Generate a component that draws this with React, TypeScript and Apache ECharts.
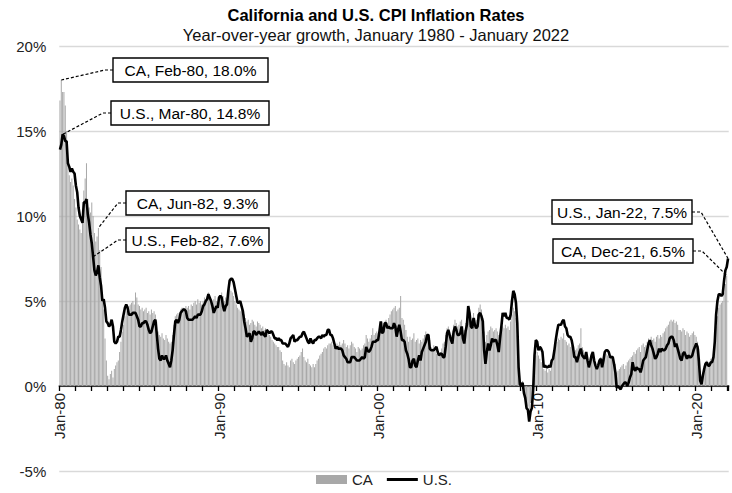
import React, { useEffect, useRef } from "react";
import * as echarts from "echarts";

// ---------- data (year-over-year % change, monthly) ----------
const MONTH_NAMES = ["Jan", "Feb", "Mar", "Apr", "May", "Jun", "Jul", "Aug", "Sep", "Oct", "Nov", "Dec"];
const FIRST_YEAR = 1980;
const LAST_YEAR = 2022;

const caValues1980s = [
  16.8, 18.0, 17.3, 17.3, 16.5, 15.0, 13.0, 12.4, 12.0, 12.2, 11.8, 11.0,
  10.5, 9.8, 9.5, 9.2, 9.0, 10.2, 11.5, 12.2, 13.1, 11.0, 10.5, 10.2,
  10.8, 10.0, 9.0, 8.5, 8.8, 9.3, 8.0, 7.0, 5.5, 4.5, 2.8, 1.5,
  0.6, 0.4, 0.7, 0.9, 0.5, 1.0, 1.2, 1.4, 1.5, 2.0, 2.6, 3.2,
  3.6, 4.1, 4.4, 4.6, 4.7, 4.8, 4.9, 5.0, 4.8, 5.5, 5.2, 4.8,
  4.7, 4.5, 4.6, 4.4, 4.5, 4.6, 4.3, 4.4, 4.2, 4.5, 4.3, 4.4,
  4.2, 3.8, 3.2, 3.0, 2.9, 3.1, 2.8, 2.7, 3.0, 2.8, 2.6, 2.5,
  2.6, 3.0, 3.6, 4.1, 4.2, 4.3, 4.2, 4.5, 4.6, 4.6, 4.5, 4.7,
  4.6, 4.7, 4.5, 4.8, 4.7, 4.9, 5.0, 4.8, 5.1, 4.9, 5.0, 4.8,
  5.0, 5.2, 5.1, 5.3, 5.5, 5.2, 5.0, 4.9, 5.1, 5.3, 5.0, 4.9,
];
const caValues1990s = [
  5.0, 5.2, 5.5, 5.3, 5.0, 5.2, 5.0, 5.4, 5.7, 5.6, 5.5, 5.3,
  5.0, 4.8, 4.6, 4.5, 4.4, 4.5, 4.3, 4.2, 4.0, 3.8, 3.9, 3.6,
  3.7, 3.9, 3.8, 3.6, 3.5, 3.8, 3.7, 3.6, 3.4, 3.5, 3.3, 3.4,
  3.3, 3.2, 3.0, 2.9, 2.7, 2.6, 2.5, 2.4, 2.3, 2.3, 2.1, 2.0,
  1.5, 1.3, 1.2, 1.4, 1.2, 1.1, 1.5, 1.6, 1.4, 1.3, 1.5, 1.6,
  1.7, 1.8, 2.0, 2.2, 1.7, 1.5, 1.4, 1.6, 1.3, 1.2, 1.1, 1.3,
  1.1, 1.3, 1.5, 1.6, 1.8, 1.9, 2.0, 2.2, 2.3, 2.2, 2.4, 2.5,
  2.5, 2.6, 2.4, 2.3, 2.2, 2.5, 2.4, 2.6, 2.4, 2.5, 2.7, 2.5,
  2.3, 2.4, 2.2, 2.4, 2.6, 2.5, 2.3, 2.2, 2.0, 2.3, 2.2, 2.1,
  2.2, 2.4, 2.5, 3.0, 2.8, 2.6, 2.8, 3.0, 3.4, 3.0, 3.1, 3.2,
];
const caValues2000s = [
  3.1, 3.3, 3.5, 3.8, 3.5, 3.7, 3.9, 3.6, 4.0, 4.2, 4.4, 4.5,
  4.6, 4.7, 4.4, 4.5, 4.6, 5.3, 4.0, 3.9, 3.6, 3.3, 2.9, 2.6,
  2.9, 2.7, 2.8, 3.1, 2.6, 2.7, 2.8, 2.5, 2.7, 2.6, 2.8, 3.0,
  3.2, 3.0, 2.9, 2.7, 2.3, 2.2, 2.4, 2.1, 1.9, 2.0, 1.8, 2.0,
  2.2, 2.5, 2.6, 3.0, 3.4, 3.5, 3.2, 3.0, 3.1, 3.6, 3.9, 3.7,
  3.5, 3.6, 3.8, 3.9, 3.5, 3.3, 3.7, 3.8, 4.5, 4.6, 3.9, 3.7,
  4.3, 4.0, 3.9, 4.2, 4.6, 4.8, 4.5, 4.0, 3.2, 2.6, 3.0, 3.2,
  3.3, 3.5, 3.4, 3.2, 3.3, 3.4, 3.2, 3.0, 3.1, 3.3, 3.5, 3.4,
  3.6, 3.4, 3.5, 3.3, 3.8, 4.2, 4.6, 4.4, 4.0, 3.0, 1.2, 0.2,
  0.1, 0.3, -0.2, -0.6, -0.9, -1.2, -1.5, -1.0, -0.8, 0.1, 1.2, 1.8,
];
const caValues2010s = [
  2.0, 1.8, 1.6, 1.4, 1.3, 1.0, 0.9, 1.0, 0.8, 1.0, 0.9, 1.3,
  1.6, 2.0, 2.4, 2.6, 2.8, 2.7, 2.9, 2.8, 3.1, 2.7, 2.6, 2.4,
  2.5, 2.3, 2.4, 2.2, 2.0, 2.1, 2.2, 2.4, 2.5, 3.4, 2.3, 2.1,
  1.6, 1.8, 1.5, 1.2, 1.3, 1.6, 1.7, 1.5, 1.4, 1.1, 1.3, 1.5,
  1.7, 1.6, 1.9, 2.0, 1.9, 1.8, 1.7, 1.9, 1.8, 1.6, 1.4, 1.3,
  0.8, 0.9, 1.0, 1.1, 1.2, 1.3, 1.0, 1.2, 1.4, 1.5, 1.6, 1.7,
  1.8, 2.0, 1.9, 2.1, 2.2, 2.3, 2.0, 2.4, 2.5, 2.3, 2.4, 2.6,
  2.8, 2.6, 2.9, 2.7, 2.8, 2.6, 2.9, 3.0, 2.8, 3.0, 2.9, 3.1,
  3.2, 3.4, 3.5, 3.6, 3.8, 3.9, 3.8, 3.9, 3.7, 3.8, 3.6, 3.3,
  3.3, 3.2, 3.4, 3.3, 3.0, 3.2, 3.1, 2.9, 3.0, 3.1, 3.2, 3.0,
];
const caValues2020s = [
  2.9, 2.6, 2.2, 0.9, 0.6, 0.8, 1.2, 1.4, 1.5, 1.3, 1.4, 1.6,
  1.4, 1.6, 2.4, 3.5, 4.1, 4.6, 4.8, 4.9, 5.0, 5.5, 6.0, 6.5,
  null,
];

const usValues1980s = [
  13.9, 14.2, 14.8, 14.7, 14.4, 14.4, 13.1, 12.9, 12.6, 12.8, 12.6, 12.5,
  11.8, 11.4, 10.5, 10.0, 9.8, 9.6, 10.8, 10.8, 11.0, 10.1, 9.6, 8.9,
  8.4, 7.6, 6.8, 6.5, 6.7, 7.1, 6.4, 5.9, 5.0, 5.1, 4.6, 3.8,
  3.7, 3.5, 3.6, 3.9, 3.5, 2.6, 2.5, 2.6, 2.9, 2.9, 3.3, 3.8,
  4.2, 4.6, 4.8, 4.6, 4.2, 4.2, 4.2, 4.3, 4.3, 4.3, 4.1, 3.9,
  3.5, 3.5, 3.7, 3.7, 3.8, 3.8, 3.6, 3.3, 3.1, 3.2, 3.5, 3.8,
  3.9, 3.1, 2.2, 1.6, 1.5, 1.8, 1.6, 1.6, 1.8, 1.5, 1.3, 1.1,
  1.5, 2.1, 3.0, 3.8, 3.9, 3.7, 3.9, 4.3, 4.4, 4.5, 4.5, 4.4,
  4.0, 3.9, 3.9, 3.9, 3.9, 4.0, 4.1, 4.0, 4.2, 4.2, 4.2, 4.4,
  4.7, 4.8, 5.0, 5.1, 5.4, 5.2, 5.0, 4.7, 4.3, 4.5, 4.7, 4.6,
];
const usValues1990s = [
  5.2, 5.3, 5.2, 4.7, 4.4, 4.7, 4.8, 5.6, 6.2, 6.3, 6.3, 6.1,
  5.7, 5.3, 4.9, 4.9, 5.0, 4.7, 4.4, 3.8, 3.4, 2.9, 3.0, 3.1,
  2.6, 2.8, 3.2, 3.2, 3.0, 3.1, 3.2, 3.1, 3.0, 3.2, 3.0, 2.9,
  3.3, 3.2, 3.1, 3.2, 3.2, 3.0, 2.8, 2.8, 2.7, 2.8, 2.7, 2.7,
  2.5, 2.5, 2.5, 2.4, 2.3, 2.5, 2.8, 2.9, 3.0, 2.6, 2.7, 2.7,
  2.8, 2.9, 2.9, 3.1, 3.2, 3.0, 2.8, 2.6, 2.5, 2.8, 2.6, 2.5,
  2.7, 2.7, 2.8, 2.9, 2.9, 2.8, 3.0, 2.9, 3.0, 3.0, 3.3, 3.3,
  3.0, 3.0, 2.8, 2.5, 2.2, 2.3, 2.2, 2.2, 2.2, 2.1, 1.8, 1.7,
  1.6, 1.4, 1.4, 1.4, 1.7, 1.7, 1.7, 1.6, 1.5, 1.5, 1.5, 1.6,
  1.7, 1.6, 1.7, 2.3, 2.1, 2.0, 2.1, 2.3, 2.6, 2.6, 2.6, 2.7,
];
const usValues2000s = [
  2.7, 3.2, 3.8, 3.1, 3.2, 3.7, 3.7, 3.4, 3.5, 3.4, 3.4, 3.4,
  3.7, 3.5, 2.9, 3.3, 3.6, 3.2, 2.7, 2.7, 2.6, 2.1, 1.9, 1.6,
  1.1, 1.1, 1.5, 1.6, 1.2, 1.1, 1.5, 1.8, 1.5, 2.0, 2.2, 2.4,
  2.6, 3.0, 3.0, 2.2, 2.1, 2.1, 2.1, 2.2, 2.3, 2.0, 1.8, 1.9,
  1.9, 1.7, 1.7, 2.3, 3.1, 3.3, 3.0, 2.7, 2.5, 3.2, 3.5, 3.3,
  3.0, 3.0, 3.1, 3.5, 2.8, 2.5, 3.2, 3.6, 4.7, 4.3, 3.5, 3.4,
  4.0, 3.6, 3.4, 3.5, 4.2, 4.3, 4.1, 3.8, 2.1, 1.3, 2.0, 2.5,
  2.1, 2.4, 2.8, 2.6, 2.7, 2.7, 2.4, 2.0, 2.8, 3.5, 4.3, 4.1,
  4.3, 4.0, 4.0, 3.9, 4.2, 5.0, 5.6, 5.4, 4.9, 3.7, 1.1, 0.1,
  0.0, 0.2, -0.4, -0.7, -1.3, -1.4, -2.1, -1.5, -1.3, -0.2, 1.8, 2.7,
];
const usValues2010s = [
  2.6, 2.1, 2.3, 2.2, 2.0, 1.1, 1.2, 1.1, 1.1, 1.2, 1.1, 1.5,
  1.6, 2.1, 2.7, 3.2, 3.6, 3.6, 3.6, 3.8, 3.9, 3.5, 3.4, 3.0,
  2.9, 2.9, 2.7, 2.3, 1.7, 1.7, 1.4, 1.7, 2.0, 2.2, 1.8, 1.7,
  1.6, 2.0, 1.5, 1.1, 1.4, 1.8, 2.0, 1.5, 1.2, 1.0, 1.2, 1.5,
  1.6, 1.1, 1.5, 2.0, 2.1, 2.1, 2.0, 1.7, 1.7, 1.7, 1.3, 0.8,
  -0.1, 0.0, -0.1, -0.2, 0.0, 0.1, 0.2, 0.2, 0.0, 0.2, 0.5, 0.7,
  1.4, 1.0, 0.9, 1.1, 1.0, 1.0, 0.8, 1.1, 1.5, 1.6, 1.7, 2.1,
  2.5, 2.7, 2.4, 2.2, 1.9, 1.6, 1.7, 1.9, 2.2, 2.0, 2.2, 2.1,
  2.1, 2.2, 2.4, 2.5, 2.8, 2.9, 2.9, 2.7, 2.3, 2.5, 2.2, 1.9,
  1.6, 1.5, 1.9, 2.0, 1.8, 1.6, 1.8, 1.7, 1.7, 1.8, 2.1, 2.3,
];
const usValues2020s = [
  2.5, 2.3, 1.5, 0.3, 0.1, 0.6, 1.0, 1.3, 1.4, 1.2, 1.2, 1.4,
  1.4, 1.7, 2.6, 4.2, 5.0, 5.4, 5.4, 5.3, 5.4, 6.2, 6.8, 7.0,
  7.5,
];

const yTicks = [-5, 0, 5, 10, 15, 20];

const categories: string[] = [];
for (let y = FIRST_YEAR; y <= LAST_YEAR; y++) {
  for (let m = 0; m < 12; m++) {
    if (y === LAST_YEAR && m > 0) break;
    categories.push(`${MONTH_NAMES[m]}-${String(y % 100).padStart(2, "0")}`);
  }
}
const caValues = [...caValues1980s, ...caValues1990s, ...caValues2000s, ...caValues2010s, ...caValues2020s];
const usValues = [...usValues1980s, ...usValues1990s, ...usValues2000s, ...usValues2010s, ...usValues2020s];

// annotation callouts: which point, and where its box sits
const callouts = [
  { series: "CA", month: "Feb-80", box: [113, 58, 155, 24], side: "left" },
  { series: "U.S.", month: "Mar-80", box: [111, 101, 158, 24], side: "left" },
  { series: "CA", month: "Jun-82", box: [126, 191, 143, 24], side: "left" },
  { series: "U.S.", month: "Feb-82", box: [126, 228, 143, 24], side: "left" },
  { series: "U.S.", month: "Jan-22", box: [552, 200, 140, 24], side: "right" },
  { series: "CA", month: "Dec-21", box: [553, 239, 140, 24], side: "right" },
];

const FONT = "'Liberation Sans', Arial, sans-serif";
const GRID_TOP = 46;
const GRID_BOTTOM = 22;
const CHART_H = 493;

export default function App() {
  const ref = useRef<HTMLDivElement>(null);
  useEffect(() => {
    if (!ref.current) return;
    const chart = echarts.init(ref.current, undefined, { renderer: "svg" });
    const yMin = yTicks[0];
    const yMax = yTicks[yTicks.length - 1];
    const gridH = CHART_H - GRID_TOP - GRID_BOTTOM;
    const zeroOffset = (gridH * (0 - yMin)) / (yMax - yMin);
    const option: any = {
      animation: false,
      textStyle: { fontFamily: FONT },
      grid: {
        left: 59.3,
        right: 3.3,
        top: GRID_TOP,
        bottom: GRID_BOTTOM,
        containLabel: false,
        outerBoundsMode: "none",
      },
      legend: {
        left: 311,
        top: 467,
        itemWidth: 31,
        itemHeight: 9,
        itemGap: 14,
        textStyle: { fontSize: 15, color: "#222", fontFamily: FONT },
        data: [
          { name: "CA", icon: "rect" },
          { name: "U.S.", icon: "path://M0,0 H31 V3 H0 Z" },
        ],
      },
      xAxis: {
        type: "category",
        data: categories,
        position: "bottom",
        offset: -zeroOffset,
        axisLine: { onZero: false, lineStyle: { color: "#000", width: 1.5 } },
        axisTick: {
          show: true,
          interval: (i: number) => i % 12 === 0,
          length: 5,
          lineStyle: { color: "#000", width: 1.3 },
        },
        axisLabel: {
          interval: (i: number) => i % 120 === 0,
          rotate: 90,
          fontSize: 15,
          color: "#222",
          margin: 7,
          fontFamily: FONT,
        },
        splitLine: { show: false },
      },
      yAxis: {
        type: "value",
        min: yMin,
        max: yMax,
        interval: 5,
        axisLine: { show: false },
        axisTick: { show: false },
        axisLabel: { formatter: "{value}%", fontSize: 15, color: "#222", margin: 13, fontFamily: FONT },
        splitLine: { lineStyle: { color: "#d9d9d9", width: 1.3 } },
      },
      series: [
        {
          name: "CA",
          type: "bar",
          data: caValues,
          barCategoryGap: "45%",
          itemStyle: { color: "#a8a8a8" },
          z: 1,
        },
        {
          name: "U.S.",
          type: "line",
          data: usValues,
          symbol: "none",
          lineStyle: { color: "#000", width: 2.6 },
          itemStyle: { color: "#000" },
          z: 3,
        },
      ],
    };
    chart.setOption(option);

    const graphics: any[] = [
      {
        type: "text",
        x: 376,
        y: 15,
        z: 100,
        style: {
          text: "California and U.S. CPI Inflation Rates",
          font: `bold 16.5px ${FONT}`,
          fill: "#000",
          align: "center",
          verticalAlign: "middle",
          textAlign: "center",
          textVerticalAlign: "middle",
        },
      },
      {
        type: "text",
        x: 376,
        y: 35,
        z: 100,
        style: {
          text: "Year-over-year growth, January 1980 - January 2022",
          font: `16.5px ${FONT}`,
          fill: "#111",
          align: "center",
          verticalAlign: "middle",
          textAlign: "center",
          textVerticalAlign: "middle",
        },
      },
    ];
    callouts.forEach((c) => {
      const idx = categories.indexOf(c.month);
      const val = (c.series === "CA" ? caValues[idx] : usValues[idx]) as number;
      const [px, py] = chart.convertToPixel({ gridIndex: 0 }, [idx, val]) as number[];
      const [bx, by, bw, bh] = c.box;
      const my = by + bh / 2;
      const ex = c.side === "left" ? bx : bx + bw;
      const kx = c.side === "left" ? bx - 8 : bx + bw + 9;
      graphics.push({
        type: "polyline",
        z: 90,
        shape: { points: [[ex, my], [kx, my], [px, py]] },
        style: { stroke: "#000", lineWidth: 1.2, lineDash: [3, 2], fill: null },
      });
      graphics.push({
        type: "rect",
        z: 95,
        shape: { x: bx, y: by, width: bw, height: bh },
        style: { fill: "#fff", stroke: "#000", lineWidth: 1.4 },
      });
      graphics.push({
        type: "text",
        z: 96,
        x: bx + bw / 2,
        y: my + 0.5,
        style: {
          text: `${c.series}, ${c.month}, ${val.toFixed(1)}%`,
          font: `15.5px ${FONT}`,
          fill: "#000",
          align: "center",
          verticalAlign: "middle",
          textAlign: "center",
          textVerticalAlign: "middle",
        },
      });
    });
    chart.setOption({ graphic: graphics });
    return () => chart.dispose();
  }, []);
  return (
    <div
      ref={ref}
      style={{ position: "absolute", left: 0, top: 0, width: 732, height: 493, background: "#fff" }}
    />
  );
}
